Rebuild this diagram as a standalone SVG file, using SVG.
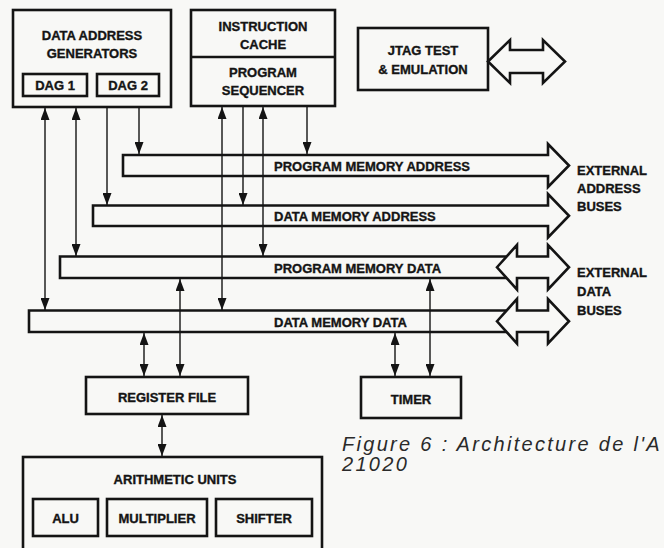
<svg xmlns="http://www.w3.org/2000/svg" width="664" height="548" viewBox="0 0 664 548">
<style>
.bx{fill:none;stroke:#141414;stroke-width:2.6}
.bus{fill:none;stroke:#141414;stroke-width:2.6;stroke-linejoin:miter}
.ln{fill:none;stroke:#141414;stroke-width:1.4}
.t{font-family:"Liberation Sans",Arial,sans-serif;font-weight:bold;font-size:13px;fill:#141414;stroke:#141414;stroke-width:0.35}
.c{text-anchor:middle}
.cap{font-family:"Liberation Sans",Arial,sans-serif;font-style:italic;font-size:20px;letter-spacing:2.3px;fill:#2a2a2a}
</style>
<defs>
<marker id="ah" viewBox="0 0 12 9" refX="12" refY="4.5" markerWidth="12" markerHeight="9" markerUnits="userSpaceOnUse" orient="auto-start-reverse">
<path d="M0,0 L12,4.5 L0,9 Z" fill="#141414"/>
</marker>
</defs>
<rect width="664" height="548" fill="#f8f8f6"/>

<g id="dag">
<rect class="bx" x="13" y="10" width="158" height="97"/>
<text class="t c" x="92" y="39.5">DATA ADDRESS</text>
<text class="t c" x="92" y="58">GENERATORS</text>
<rect class="bx" x="23" y="74" width="64" height="22"/>
<text class="t c" x="55" y="90">DAG 1</text>
<rect class="bx" x="97" y="74" width="62" height="22"/>
<text class="t c" x="128" y="90">DAG 2</text>
</g>

<g id="sequencer">
<rect class="bx" x="191" y="10" width="144" height="96"/>
<line class="bx" x1="191" y1="57" x2="335" y2="57"/>
<text class="t c" x="263" y="30.5">INSTRUCTION</text>
<text class="t c" x="263" y="49">CACHE</text>
<text class="t c" x="263" y="76.5">PROGRAM</text>
<text class="t c" x="263" y="95">SEQUENCER</text>
</g>

<g id="jtag">
<rect class="bx" x="358" y="28" width="130" height="62"/>
<text class="t c" x="423" y="55">JTAG TEST</text>
<text class="t c" x="423" y="74">&amp; EMULATION</text>
<path class="bus" d="M488,61.5 L510,40 V50 H543 V40 L565,61.5 L543,83 V73 H510 V83 Z"/>
</g>

<g id="pma">
<path class="bus" d="M123,155 H548 V144 L569,165.5 L548,187 V176 H123 Z"/>
<text class="t" x="274" y="170.5">PROGRAM MEMORY ADDRESS</text>
</g>
<g id="dma">
<path class="bus" d="M93,205.5 H548 V194 L569,215.75 L548,237.5 V226 H93 Z"/>
<text class="t" x="274" y="221">DATA MEMORY ADDRESS</text>
</g>
<g id="pmd">
<path class="bus" d="M507,256.5 H60 V278 H507"/>
<path class="bus" d="M497,267.25 L517,245 V256.5 H548 V245 L569,267.25 L548,289.5 V278 H517 V289.5 Z"/>
<text class="t" x="274" y="273">PROGRAM MEMORY DATA</text>
</g>
<g id="dmd">
<path class="bus" d="M507,310.5 H29 V332 H507"/>
<path class="bus" d="M497,321.25 L517,299 V310.5 H548 V299 L569,321.25 L548,343.5 V332 H517 V343.5 Z"/>
<text class="t" x="274" y="326.5">DATA MEMORY DATA</text>
</g>

<g id="ext-labels">
<text class="t" x="577" y="175">EXTERNAL</text>
<text class="t" x="577" y="193">ADDRESS</text>
<text class="t" x="577" y="211">BUSES</text>
<text class="t" x="577" y="277">EXTERNAL</text>
<text class="t" x="577" y="295.5">DATA</text>
<text class="t" x="577" y="315">BUSES</text>
</g>

<g id="regfile">
<rect class="bx" x="86" y="377" width="162" height="37"/>
<text class="t c" x="167" y="402">REGISTER FILE</text>
</g>

<g id="timer">
<rect class="bx" x="361" y="377" width="100" height="41"/>
<text class="t c" x="411" y="404">TIMER</text>
</g>

<g id="arith">
<rect class="bx" x="23" y="457" width="299" height="110"/>
<text class="t c" x="175" y="484">ARITHMETIC UNITS</text>
<rect class="bx" x="33" y="499" width="65" height="37"/>
<text class="t c" x="65.5" y="522.5">ALU</text>
<rect class="bx" x="107" y="499" width="100" height="37"/>
<text class="t c" x="157" y="522.5">MULTIPLIER</text>
<rect class="bx" x="216" y="499" width="96" height="37"/>
<text class="t c" x="264" y="522.5">SHIFTER</text>
</g>

<g id="connectors">
<line class="ln" x1="45" y1="108" x2="45" y2="310" marker-start="url(#ah)" marker-end="url(#ah)"/>
<line class="ln" x1="76" y1="108" x2="76" y2="256" marker-start="url(#ah)" marker-end="url(#ah)"/>
<line class="ln" x1="107" y1="108" x2="107" y2="205" marker-end="url(#ah)"/>
<line class="ln" x1="139" y1="108" x2="139" y2="154" marker-end="url(#ah)"/>
<line class="ln" x1="222" y1="107" x2="222" y2="310" marker-start="url(#ah)" marker-end="url(#ah)"/>
<line class="ln" x1="243" y1="107" x2="243" y2="205" marker-end="url(#ah)"/>
<line class="ln" x1="263" y1="107" x2="263" y2="256" marker-start="url(#ah)" marker-end="url(#ah)"/>
<line class="ln" x1="307" y1="107" x2="307" y2="154" marker-end="url(#ah)"/>
<line class="ln" x1="144" y1="333" x2="144" y2="376" marker-start="url(#ah)" marker-end="url(#ah)"/>
<line class="ln" x1="180" y1="279" x2="180" y2="376" marker-start="url(#ah)" marker-end="url(#ah)"/>
<line class="ln" x1="395" y1="333" x2="395" y2="376" marker-start="url(#ah)" marker-end="url(#ah)"/>
<line class="ln" x1="430" y1="279" x2="430" y2="376" marker-start="url(#ah)" marker-end="url(#ah)"/>
<line class="ln" x1="162" y1="415" x2="162" y2="456" marker-start="url(#ah)" marker-end="url(#ah)"/>
</g>

<text class="cap" x="342" y="451">Figure 6 : Architecture de l'A</text>
<text class="cap" x="342" y="471">21020</text>
</svg>
